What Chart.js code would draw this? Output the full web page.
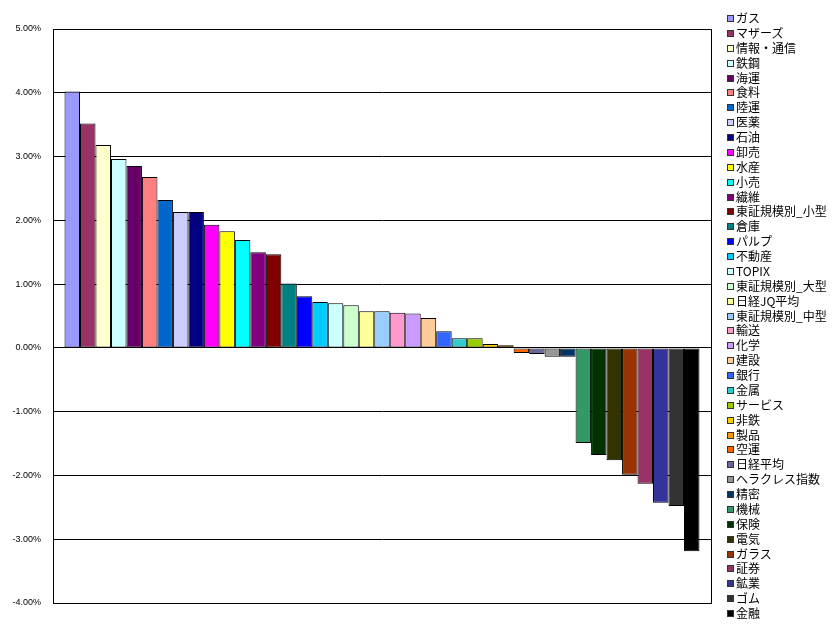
<!DOCTYPE html>
<html>
<head>
<meta charset="utf-8">
<script src="https://cdn.jsdelivr.net/npm/chart.js@4/dist/chart.umd.min.js"></script>
<style>
  html, body { margin: 0; padding: 0; background: #fff; }
  #wrap { position: relative; width: 833px; height: 629px; }
  #legend { position: absolute; left: 727px; top: 11px; font-family: "Noto Sans CJK JP", sans-serif; font-size: 12px; color: #000; }
  .lg-row { height: 14.875px; line-height: 14.875px; white-space: nowrap; }
  .lg-box { display: inline-block; width: 5px; height: 5px; border: 1px solid #333; margin-right: 2px; vertical-align: 1px; }
</style>
</head>
<body>
<div id="wrap">
  <canvas id="chart" width="833" height="629"></canvas>
  <div id="legend"></div>
</div>
<script>
/* sector names, in the order the bars are drawn */
var sectors = ["ガス", "マザーズ", "情報・通信", "鉄鋼", "海運", "食料", "陸運", "医薬", "石油", "卸売",
  "水産", "小売", "繊維", "東証規模別_小型", "倉庫", "パルプ", "不動産", "TOPIX", "東証規模別_大型", "日経JQ平均",
  "東証規模別_中型", "輸送", "化学", "建設", "銀行", "金属", "サービス", "非鉄", "製品", "空運",
  "日経平均", "ヘラクレス指数", "精密", "機械", "保険", "電気", "ガラス", "証券", "鉱業", "ゴム", "金融"];

/* change, % */
var changes = [4.02, 3.52, 3.18, 2.96, 2.85, 2.68, 2.32, 2.13, 2.13, 1.93,
  1.83, 1.69, 1.50, 1.47, 1.01, 0.81, 0.72, 0.70, 0.67, 0.575,
  0.575, 0.55, 0.54, 0.47, 0.26, 0.15, 0.15, 0.06, 0.04, -0.08,
  -0.095, -0.14, -0.14, -1.49, -1.68, -1.76, -1.99, -2.13, -2.43, -2.48, -3.19];

var colors = ["#9999FF", "#993366", "#FFFFCC", "#CCFFFF", "#660066", "#FF8080", "#0066CC", "#CCCCFF", "#000080", "#FF00FF",
  "#FFFF00", "#00FFFF", "#800080", "#800000", "#008080", "#0000FF", "#00CCFF", "#CCFFFF", "#CCFFCC", "#FFFF99",
  "#99CCFF", "#FF99CC", "#CC99FF", "#FFCC99", "#3366FF", "#33CCCC", "#99CC00", "#FFCC00", "#FF9900", "#FF6600",
  "#666699", "#969696", "#003366", "#339966", "#003300", "#333300", "#993300", "#993366", "#333399", "#333333", "#000000"];

var yTicks = [5, 4, 3, 2, 1, 0, -1, -2, -3, -4];

var datasets = sectors.map(function (name, i) {
  return {
    label: name,
    data: [changes[i]],
    backgroundColor: colors[i],
    borderColor: "#000",
    borderWidth: 1,
    borderSkipped: false
  };
});

/* box around the plot area */
var frame = {
  id: "frame",
  afterDraw: function (chart) {
    var a = chart.chartArea, ctx = chart.ctx;
    ctx.save();
    ctx.strokeStyle = "#000";
    ctx.lineWidth = 1;
    ctx.strokeRect(Math.round(a.left) + 0.5, Math.round(a.top) + 0.5, Math.round(a.right - a.left), Math.round(a.bottom - a.top));
    ctx.restore();
  }
};

var chart = new Chart(document.getElementById("chart"), {
  type: "bar",
  data: { labels: [""], datasets: datasets },
  options: {
    responsive: false,
    animation: false,
    layout: { padding: { left: 0, top: 29, right: 122, bottom: 26 } },
    datasets: { bar: { categoryPercentage: 0.965, barPercentage: 1 } },
    plugins: { legend: { display: false }, tooltip: { enabled: false } },
    scales: {
      x: { display: false },
      y: {
        min: -4, max: 5,
        afterBuildTicks: function (s) { s.ticks = yTicks.map(function (v) { return { value: v }; }); },
        afterFit: function (s) { s.width = 53; },
        grid: { color: "#000", lineWidth: 1, drawTicks: false },
        border: { color: "#000" },
        ticks: {
          padding: 12,
          color: "#000",
          font: { family: "Liberation Sans, Arial", size: 9 },
          callback: function (v) { return v.toFixed(2) + "%"; }
        }
      }
    }
  },
  plugins: [frame]
});

/* legend, one row per series */
var html = "";
chart.data.datasets.forEach(function (d) {
  html += '<div class="lg-row"><span class="lg-box" style="background:' + d.backgroundColor + ';"></span>' + d.label + "</div>";
});
document.getElementById("legend").innerHTML = html;
</script>
</body>
</html>
